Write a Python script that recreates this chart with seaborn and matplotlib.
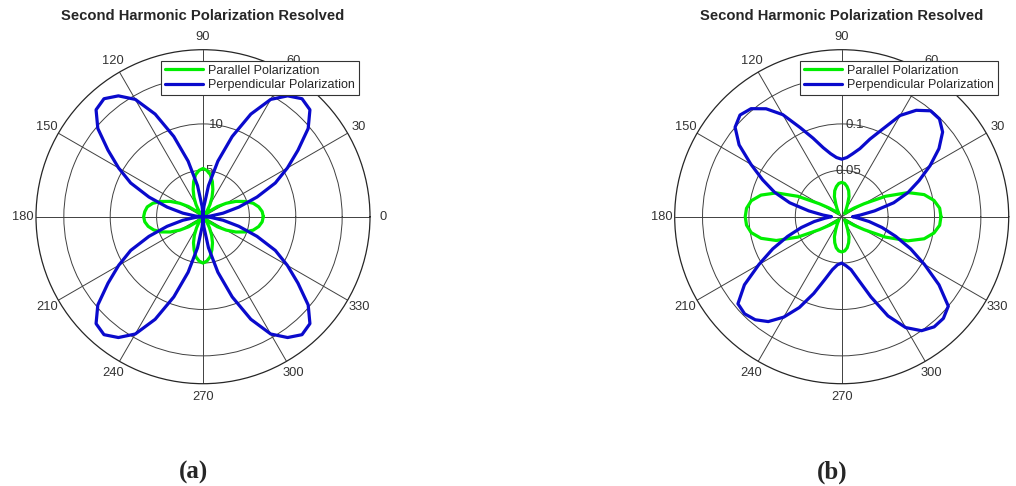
import numpy as np
import matplotlib
matplotlib.use("Agg")
import matplotlib.pyplot as plt
import seaborn as sns

# angle samples (degrees) read around each curve, 0..360 every 5 deg
angles_deg = np.arange(0, 361, 5)

# panel (a) radii
par_a = [6.5, 6.4, 6.1, 5.6, 4.8, 3.9, 2.9, 1.9, 0.9, 0.1, 0.3, 0.8, 1.5, 2.3, 3.1, 3.9, 4.6, 5.0, 5.2,
         5.0, 4.6, 3.9, 3.1, 2.3, 1.5, 0.8, 0.3, 0.1, 0.9, 1.9, 2.9, 3.9, 4.8, 5.6, 6.1, 6.3, 6.4,
         6.3, 6.0, 5.5, 4.8, 3.9, 2.9, 1.9, 0.9, 0.1, 0.3, 0.8, 1.4, 2.2, 3.0, 3.7, 4.4, 4.8, 5.0,
         4.8, 4.4, 3.7, 3.0, 2.2, 1.4, 0.8, 0.3, 0.1, 0.9, 1.9, 2.9, 3.9, 4.8, 5.6, 6.1, 6.4, 6.5]
perp_a = [0.0, 0.8, 2.2, 4.0, 6.2, 8.6, 10.5, 12.5, 14.8, 16.3, 16.6, 15.9, 14.6, 12.2, 9.2, 6.2, 3.4, 1.1, 0.0,
          1.1, 3.4, 6.2, 9.2, 12.2, 14.6, 15.9, 16.6, 16.3, 14.8, 12.5, 10.5, 8.6, 6.2, 4.0, 2.2, 0.8, 0.0,
          0.8, 2.2, 4.0, 6.2, 8.6, 10.5, 12.5, 14.8, 16.3, 16.6, 15.9, 14.6, 12.2, 9.2, 6.2, 3.4, 1.1, 0.0,
          1.1, 3.4, 6.2, 9.2, 12.2, 14.6, 15.9, 16.6, 16.3, 14.8, 12.5, 10.5, 8.6, 6.2, 4.0, 2.2, 0.8, 0.0]

# panel (b) radii
par_b = [0.107, 0.106, 0.101, 0.092, 0.076, 0.052, 0.028, 0.016, 0.009, 0.005, 0.005, 0.007, 0.010, 0.015, 0.023, 0.029, 0.033, 0.036, 0.037,
         0.036, 0.033, 0.029, 0.023, 0.015, 0.010, 0.007, 0.005, 0.005, 0.009, 0.016, 0.028, 0.052, 0.075, 0.090, 0.099, 0.103, 0.104,
         0.103, 0.099, 0.090, 0.075, 0.052, 0.028, 0.016, 0.009, 0.005, 0.005, 0.007, 0.010, 0.015, 0.023, 0.029, 0.034, 0.037, 0.038,
         0.037, 0.034, 0.029, 0.023, 0.015, 0.010, 0.007, 0.005, 0.005, 0.009, 0.016, 0.028, 0.052, 0.076, 0.092, 0.101, 0.106, 0.107]
perp_b = [0.012, 0.020, 0.036, 0.058, 0.076, 0.092, 0.110, 0.128, 0.142, 0.149, 0.149, 0.140, 0.126, 0.104, 0.089, 0.076, 0.069, 0.064, 0.062,
          0.064, 0.069, 0.077, 0.090, 0.106, 0.127, 0.142, 0.152, 0.155, 0.150, 0.135, 0.113, 0.094, 0.077, 0.058, 0.036, 0.020, 0.011,
          0.018, 0.030, 0.045, 0.062, 0.082, 0.103, 0.128, 0.146, 0.148, 0.145, 0.138, 0.125, 0.108, 0.088, 0.070, 0.058, 0.052, 0.050,
          0.053, 0.058, 0.071, 0.092, 0.118, 0.138, 0.150, 0.155, 0.155, 0.150, 0.128, 0.103, 0.082, 0.062, 0.045, 0.030, 0.018, 0.012]

series_names = ["Parallel Polarization", "Perpendicular Polarization"]
series_colors = ["#00ee00", "#0a0acc"]
title = "Second Harmonic Polarization Resolved"
theta_ticks = [0, 30, 60, 90, 120, 150, 180, 210, 240, 270, 300, 330]
rings_a = [5, 10, 15]
rlabels_a = ["5", "10"]      # the 15 ring label sits under the legend
rings_b = [0.05, 0.1, 0.15]
rlabels_b = ["0.05", "0.1"]
panel_tags = ["(a)", "(b)"]

sns.set_style("white")
plt.rcParams["font.family"] = ["Liberation Sans", "DejaVu Sans"]

W, H = 1016, 486
fig = plt.figure(figsize=(W / 100, H / 100), dpi=100)

theta = np.deg2rad(angles_deg)
panels = [
    (203.0, (par_a, perp_a), 18.0, rings_a, rlabels_a, 359, 193),
    (841.7, (par_b, perp_b), 0.18, rings_b, rlabels_b, 998, 832),
]
R = 167.0
cy = 216.7

for i, (cx, data, rmax, rings, rl, leg_x, tag_x) in enumerate(panels):
    ax = fig.add_axes([(cx - R) / W, (H - cy - R) / H, 2 * R / W, 2 * R / H], projection="polar")
    for vals, name, col in zip(data, series_names, series_colors):
        sns.lineplot(x=theta, y=vals, ax=ax, sort=False, estimator=None,
                     color=col, lw=2.3, label=name)
    ax.set_ylim(0, rmax)
    ax.set_yticks(rings)
    ax.set_yticklabels([])
    for r, lab in zip(rings, rl):
        ax.text(np.deg2rad(82), r, lab, ha="center", va="center", fontsize=9.5, color="#333333", zorder=1)
    ax.set_thetagrids(theta_ticks, [str(t) for t in theta_ticks])
    ax.grid(True, color="#404040", lw=0.7)
    ax.spines["polar"].set_color("#262626")
    ax.spines["polar"].set_linewidth(0.9)
    ax.tick_params(axis="x", pad=-1, labelsize=9.3, colors="#333333")
    ax.set_xlabel("")
    ax.set_ylabel("")
    ax.set_title(title, fontsize=10.6, fontweight="bold", y=1 + (cy - R - 16) / (2 * R), va="center", pad=0)
    leg = ax.legend(loc="upper right", bbox_to_anchor=(leg_x / W, 1 - 61 / H), bbox_transform=fig.transFigure,
                    frameon=True, fancybox=False, framealpha=1, edgecolor="#333333", fontsize=9,
                    handlelength=3.1, borderpad=0.3, labelspacing=0.2, handletextpad=0.4, borderaxespad=0)
    leg.get_frame().set_linewidth(0.8)
    fig.text(tag_x / W, 1 - 472 / H, panel_tags[i], ha="center", va="center",
             family="Liberation Serif", fontweight="bold", fontsize=18)

fig.savefig("out.png", dpi=100)
